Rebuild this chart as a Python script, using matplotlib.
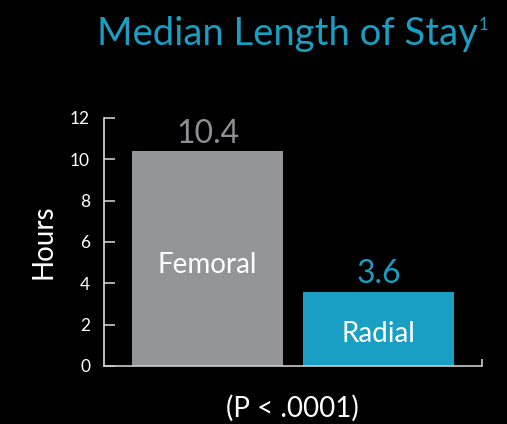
import matplotlib
matplotlib.use('Agg')
import matplotlib.pyplot as plt

# Dados do gráfico
categorias = ['Femoral', 'Radial']
horas = [10.4, 3.6]
rotulos_valor = ['10.4', '3.6']
cores_barras = ['#939598', '#189fc3']
cores_valor = ['#8d8f92', '#189fc3']
yticks = [0, 2, 4, 6, 8, 10, 12]

plt.rcParams['font.family'] = ['Lato', 'DejaVu Sans']

fig = plt.figure(figsize=(5.07, 4.24), dpi=100, facecolor='black')
ax = fig.add_axes([104 / 507, 58 / 424, 378 / 507, 248 / 424])
ax.set_facecolor('black')

x = list(range(len(categorias)))
ax.bar(x, horas, width=0.883, color=cores_barras, zorder=2)

# rótulos de valor acima e nome da categoria dentro de cada barra
pos_nome = [0.48, 0.46]
for i, (v, rot) in enumerate(zip(horas, rotulos_valor)):
    ax.text(i, v + 0.12, rot, ha='center', va='bottom', fontsize=23, color=cores_valor[i])
    ax.text(i, v * pos_nome[i], categorias[i], ha='center', va='center_baseline',
            fontsize=20, color='white')

ax.set_xlim(-0.605, 1.605)
ax.set_ylim(0, 12)
ax.set_yticks(yticks)
ax.set_yticklabels([str(t) for t in yticks], fontsize=12.5, color='white')
ax.tick_params(axis='y', direction='in', length=8, width=1.2, color='#cccccc', pad=10)
ax.set_xticks([1.605])
ax.set_xticklabels([''])
ax.tick_params(axis='x', direction='in', length=5, width=1.2, color='#cccccc')

for s in ['top', 'right']:
    ax.spines[s].set_visible(False)
ax.spines['left'].set_color('#dddddd')
ax.spines['bottom'].set_color('#cccccc')
ax.spines['left'].set_linewidth(1.2)
ax.spines['bottom'].set_linewidth(1.2)

ax.set_ylabel('Hours', fontsize=20, color='white', labelpad=10)

fig.text(97 / 507, 1 - 34 / 424, 'Median Length of Stay', ha='left', va='center',
         fontsize=27.5, color='#189fc3')
fig.text(479 / 507, 1 - 25 / 424, '1', ha='left', va='center',
         fontsize=12, color='#189fc3')
fig.text(292 / 507, 1 - 408 / 424, '(P < .0001)', ha='center', va='center',
         fontsize=20, color='white')

fig.savefig('out.png', dpi=100, facecolor='black')
